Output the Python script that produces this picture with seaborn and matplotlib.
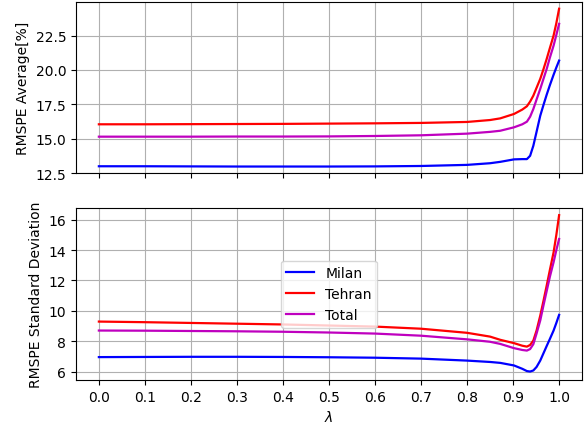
import numpy as np
import pandas as pd
import matplotlib
matplotlib.use("Agg")
import matplotlib.pyplot as plt
import seaborn as sns

lam = [0.0, 0.1, 0.2, 0.3, 0.4, 0.5, 0.6, 0.7, 0.8, 0.85, 0.872, 0.902, 0.92,
       0.93, 0.937, 0.944, 0.951, 0.959, 0.966, 0.973, 0.98, 0.988, 0.994, 1.0]

# RMSPE average [%]
avg_milan = [13.0, 13.0, 12.99, 12.98, 12.98, 12.98, 12.99, 13.02, 13.1, 13.22,
             13.32, 13.5, 13.52, 13.52, 13.76, 14.49, 15.5, 16.67, 17.45, 18.2,
             18.9, 19.65, 20.18, 20.68]
avg_tehran = [16.05, 16.05, 16.06, 16.07, 16.08, 16.1, 16.12, 16.15, 16.22, 16.36,
              16.48, 16.8, 17.12, 17.36, 17.7, 18.13, 18.7, 19.35, 20.05, 20.8,
              21.6, 22.5, 23.4, 24.45]
avg_total = [15.15, 15.15, 15.15, 15.16, 15.16, 15.17, 15.2, 15.25, 15.37, 15.5,
             15.58, 15.83, 16.05, 16.24, 16.6, 17.16, 17.85, 18.62, 19.35, 20.07,
             20.9, 21.77, 22.55, 23.35]

# RMSPE standard deviation
std_milan = [6.95, 6.96, 6.97, 6.97, 6.96, 6.94, 6.91, 6.85, 6.72, 6.63,
             6.57, 6.4, 6.18, 6.03, 6.0, 6.07, 6.3, 6.72, 7.2, 7.68,
             8.15, 8.7, 9.2, 9.73]
std_tehran = [9.29, 9.25, 9.2, 9.15, 9.1, 9.03, 8.96, 8.82, 8.55, 8.3,
              8.09, 7.87, 7.7, 7.64, 7.75, 8.04, 8.7, 9.68, 10.65, 11.66,
              12.7, 13.85, 15.0, 16.3]
std_total = [8.70, 8.69, 8.67, 8.65, 8.62, 8.57, 8.5, 8.36, 8.12, 7.96,
             7.82, 7.54, 7.42, 7.38, 7.48, 7.8, 8.5, 9.36, 10.35, 11.3,
             12.25, 13.2, 14.0, 14.73]

groups = ["Milan", "Tehran", "Total"]
colors = {"Milan": "blue", "Tehran": "red", "Total": "m"}


def to_long(series):
    frames = []
    for name, vals in zip(groups, series):
        frames.append(pd.DataFrame({"lam": lam, "val": vals, "city": name}))
    return pd.concat(frames, ignore_index=True)


df_avg = to_long([avg_milan, avg_tehran, avg_total])
df_std = to_long([std_milan, std_tehran, std_total])

fig, (ax1, ax2) = plt.subplots(2, 1, sharex=True, figsize=(5.88, 4.27), dpi=100)
fig.subplots_adjust(left=0.129, right=0.990, top=0.994, bottom=0.108, hspace=0.205)

sns.lineplot(data=df_avg, x="lam", y="val", hue="city", palette=colors,
             linewidth=1.6, ax=ax1, legend=False)
sns.lineplot(data=df_std, x="lam", y="val", hue="city", palette=colors,
             linewidth=1.6, ax=ax2)

ax1.set_ylabel("RMSPE Average[%]")
ax1.set_xlabel("")
ax1.set_ylim(12.5, 24.97)
ax1.set_yticks([12.5, 15.0, 17.5, 20.0, 22.5])
ax1.grid(True, color="#b0b0b0", linewidth=0.8)

ax2.set_ylabel("RMSPE Standard Deviation")
ax2.set_xlabel(r"$\lambda$")
ax2.set_ylim(5.45, 16.75)
ax2.set_yticks([6, 8, 10, 12, 14, 16])
ax2.set_xticks(np.arange(0, 1.01, 0.1))
ax2.set_xlim(-0.05, 1.05)
ax2.grid(True, color="#b0b0b0", linewidth=0.8)
ax2.legend(loc="center", title=None)

fig.savefig("out.png", dpi=100)
